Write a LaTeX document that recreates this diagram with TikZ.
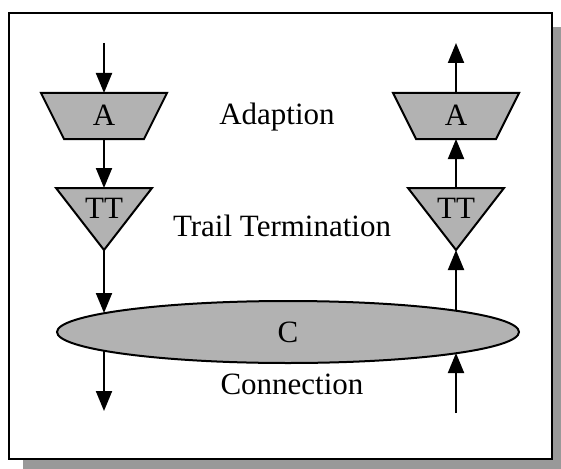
\documentclass[tikz,border=0pt]{standalone}
\usepackage{fontspec}
\setmainfont{Liberation Serif}
\usetikzlibrary{arrows.meta}
\begin{document}
\begin{tikzpicture}[x=1pt,y=-1pt,
  every node/.style={font=\fontsize{31}{37}\selectfont, inner sep=0pt, anchor=base},
  block/.style={fill=black!30, draw=black, line width=2pt, line join=miter},
  flow/.style={line width=2pt, -{Triangle[length=20pt,width=16pt]}},
  frame/.style={draw=black, line width=2.5pt, fill=white},
  shadow/.style={fill=black!40}]
  \useasboundingbox (0,0) rectangle (561,468);
  \clip (0,0) rectangle (561,468);
  % framed panel with drop shadow
  \fill[shadow] (23,27) rectangle (575,480);
  \draw[frame] (9,13) rectangle (552,459);

  % adaption blocks
  \foreach \cx/\nm in {104/L, 456/R}{
    \draw[block] (\cx-63,93) -- (\cx+63,93) -- (\cx+40,139) -- (\cx-40,139) -- cycle;
    \coordinate (A\nm top) at (\cx,93);
    \coordinate (A\nm bot) at (\cx,139);
    \node (A\nm) at (\cx,125) {A};
    % trail termination blocks
    \draw[block] (\cx-48,188) -- (\cx+48,188) -- (\cx,250) -- cycle;
    \coordinate (T\nm top) at (\cx,188);
    \coordinate (T\nm bot) at (\cx,250);
    \node (T\nm) at (\cx,218) {TT};
  }
  % connection
  \draw[block] (288,332) ellipse [x radius=231, y radius=31];
  \node (C) at (288,342) {C};
  \coordinate (CLtop) at (104,313);
  \coordinate (CLbot) at (104,351);
  \coordinate (CRtop) at (456,311);
  \coordinate (CRbot) at (456,353);

  % layer labels
  \node (adapt) at (277,124) {Adaption};
  \node (trail) at (282,236) {Trail Termination};
  \node (conn) at (292,394) {Connection};

  % free ends
  \coordinate (inL) at (104,43);
  \coordinate (outL) at (104,411);
  \coordinate (inR) at (456,413);
  \coordinate (outR) at (456,43);

  % sink direction
  \draw[flow] (inL) -- (ALtop);
  \draw[flow] (ALbot) -- (TLtop);
  \draw[flow] (TLbot) -- (CLtop);
  \draw[flow] (CLbot) -- (outL);
  % source direction
  \draw[flow] (inR) -- (CRbot);
  \draw[flow] (CRtop) -- (TRbot);
  \draw[flow] (TRtop) -- (ARbot);
  \draw[flow] (ARtop) -- (outR);
\end{tikzpicture}
\end{document}
